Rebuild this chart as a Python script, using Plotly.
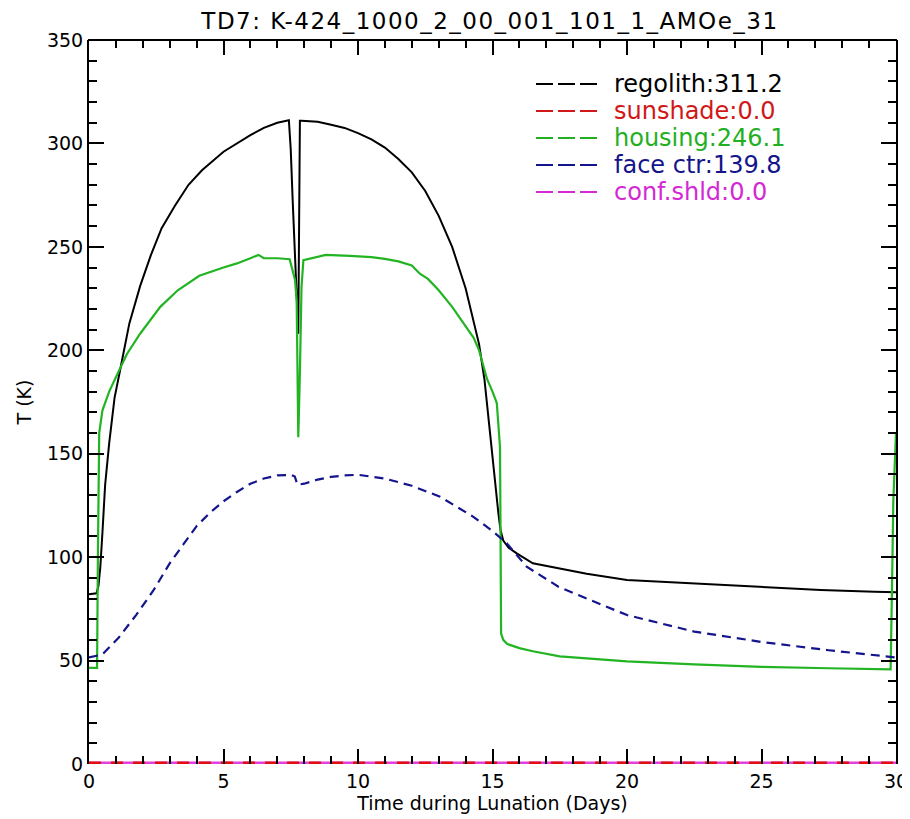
import plotly.graph_objects as go

# ---------------- data ----------------
regolith_x = [0, 0.28, 0.35, 0.42, 0.5, 0.6, 0.75, 0.95, 1.15, 1.5, 1.9, 2.3, 2.7, 3.2, 3.7,
              4.2, 5.0, 5.5, 6.0, 6.5, 7.0, 7.43, 7.5, 7.57, 7.66, 7.74, 7.78, 7.81, 7.84,
              7.9, 8.5, 9.0, 9.5, 10.0, 10.5, 11.0, 11.5, 12.0, 12.5, 13.0, 13.5, 14.0, 14.3,
              14.5, 14.7, 14.95, 15.1, 15.22, 15.3, 15.4, 15.6, 15.9, 16.5, 17.45, 18.5, 20.0,
              22.5, 25.0, 27.2, 29.2, 30.0]
regolith_y = [82, 82.5, 86, 95, 112, 135, 155, 177, 190, 213, 231, 246, 259, 270, 280,
              287, 296, 300, 304, 307.5, 310, 311.2, 297, 273, 248, 218, 208, 260, 311,
              311, 310.5, 309, 307.5, 305, 302, 298, 292.5, 286, 277, 265, 250, 230, 214,
              203, 186, 153, 135, 121, 113, 108, 104.5, 101.8, 97, 94.6, 92, 89,
              87.3, 85.7, 84.1, 83.3, 83]

sunshade_x = [0, 30]
sunshade_y = [0.0, 0.0]

housing_x = [0, 0.3, 0.33, 0.38, 0.5, 0.75, 1.0, 1.4, 1.9, 2.3, 2.65, 3.3, 4.1, 5.0, 5.5, 6.0,
             6.3, 6.5, 7.0, 7.46, 7.66, 7.72, 7.78, 7.84, 7.9, 7.97, 8.8, 9.7, 10.5, 11.0,
             11.5, 12.0, 12.3, 12.6, 13.0, 13.5, 14.0, 14.3, 14.5, 14.7, 14.8, 15.0, 15.16,
             15.28, 15.3, 15.32, 15.4, 15.55, 16.0, 16.5, 17.5, 18.5, 20.0, 22.5, 25.0,
             27.5, 29.8, 29.85, 29.9, 30.0]
housing_y = [46.5, 46.5, 100, 160, 171, 180, 187, 198, 208, 215, 221, 229, 236, 240, 242, 244.5,
             246.1, 244.5, 244.5, 244, 234, 224, 158, 189, 230.5, 243.6, 246.1, 245.6, 245, 244.2,
             243, 241, 237, 234.5, 229, 221, 212, 206, 200, 190, 186, 180, 174.5,
             153, 120, 63, 60, 58, 56, 54.5, 52, 51, 49.6, 48.2, 47,
             46.3, 45.8, 84, 127, 160]

facectr_x = [0, 0.5, 1.1, 1.75, 2.4, 3.0, 3.5, 4.0, 4.5, 5.0, 5.5, 6.0, 6.5, 7.0, 7.5, 7.65,
             7.75, 8.0, 8.5, 9.0, 9.5, 10.0, 11.0, 12.0, 13.05, 14.29, 15.03, 15.53, 16.27,
             17.45, 18.5, 20.0, 22.5, 25.0, 27.5, 29.8, 30.0]
facectr_y = [51.5, 53, 61, 72, 84, 97, 106, 115, 121.5, 127, 131.5, 135.5, 138, 139.5, 139.8,
             139, 135, 135.5, 137.5, 138.8, 139.5, 139.8, 138, 134.5, 129.2, 119.5, 112.3,
             106.7, 95.4, 85.7, 80, 72, 64, 59, 55, 52, 51.5]

confshld_x = [0, 30]
confshld_y = [0.0, 0.0]

legend_labels = ["regolith:311.2", "sunshade:0.0", "housing:246.1", "face ctr:139.8", "conf.shld:0.0"]
legend_colors = ["#000000", "#d01818", "#22b022", "#14148c", "#d428d4"]

title_text = "TD7: K-424_1000_2_00_001_101_1_AMOe_31"
x_ticks = [0, 5, 10, 15, 20, 25, 30]
y_ticks = [0, 50, 100, 150, 200, 250, 300, 350]

# ---------------- figure ----------------
FONT = "DejaVu Sans"
OFF = 8                       # page body margin of the html page
W, H = 910 - OFF, 819 - OFF
# plot area in window pixels: left 89, right 896, top 40, bottom 764
ML, MR, MT, MB = 89 - OFF, 910 - 896, 40 - OFF, 819 - 764

fig = go.Figure()
fig.add_trace(go.Scatter(x=confshld_x, y=confshld_y, mode="lines",
                         line=dict(color="#e040e0", width=5), showlegend=False))
fig.add_trace(go.Scatter(x=sunshade_x, y=sunshade_y, mode="lines",
                         line=dict(color="#e01010", width=5, dash="12px,10px"), showlegend=False))
fig.add_trace(go.Scatter(x=regolith_x, y=regolith_y, mode="lines",
                         line=dict(color="#000000", width=2), showlegend=False))
fig.add_trace(go.Scatter(x=housing_x, y=housing_y, mode="lines",
                         line=dict(color="#22b422", width=2.2), showlegend=False))
fig.add_trace(go.Scatter(x=facectr_x, y=facectr_y, mode="lines",
                         line=dict(color="#14148c", width=2.2, dash="9px,6px"), showlegend=False))

# legend drawn as annotations + dashed samples (positions in window pixels)
pw = W - ML - MR
ph = H - MT - MB
plot_left = ML + OFF
plot_bottom = OFF + H - MB
row0, rowstep = 84, 27
for i, (lab, col) in enumerate(zip(legend_labels, legend_colors)):
    py = row0 + i * rowstep
    yp = (plot_bottom - py) / ph
    fig.add_shape(type="line", xref="paper", yref="paper",
                  x0=(536 - plot_left) / pw, x1=(598 - plot_left) / pw, y0=yp, y1=yp,
                  line=dict(color=col, width=2.2, dash="17px,5px"))
    fig.add_annotation(xref="paper", yref="paper", x=(612 - plot_left) / pw, y=yp,
                       text=lab, showarrow=False, xanchor="left", yanchor="middle",
                       font=dict(family=FONT, size=24, color=col))

# top frame line (bottom edge is covered by the zero-valued series, as in the original)
fig.add_shape(type="line", xref="paper", yref="paper", x0=-0.0012, x1=1.0012, y0=1, y1=1,
              line=dict(color="black", width=2))

fig.update_layout(
    width=W, height=H,
    margin=dict(l=ML, r=MR, t=MT, b=MB, autoexpand=False),
    paper_bgcolor="white", plot_bgcolor="white",
    title=dict(text="<span style='letter-spacing:1.5px'>" + title_text + "</span>",
               x=(490 - OFF) / W, xanchor="center", y=1 - (21 - OFF) / H, yanchor="middle",
               font=dict(family=FONT, size=23, color="black")),
    font=dict(family=FONT, size=19, color="black"),
)
axis_common = dict(showgrid=False, zeroline=False, linecolor="black",
                   linewidth=2, mirror="ticks", ticks="inside", tickcolor="black",
                   tickwidth=2, ticklen=15, automargin=False,
                   tickfont=dict(family=FONT, size=19, color="black"))
fig.update_xaxes(range=[0, 30], tickmode="array", tickvals=x_ticks, showline=False,
                 ticklabelstandoff=4,
                 minor=dict(dtick=1, ticks="inside", ticklen=8, tickwidth=1.5, tickcolor="black"),
                 title=dict(text="Time during Lunation (Days)", font=dict(family=FONT, size=19),
                            standoff=4),
                 **axis_common)
fig.update_yaxes(range=[0, 350], tickmode="array", tickvals=y_ticks, showline=True,
                 minor=dict(dtick=10, ticks="inside", ticklen=8, tickwidth=1.5, tickcolor="black"),
                 title=dict(text="T (K)", font=dict(family=FONT, size=19), standoff=10),
                 **axis_common)

fig.write_html("out.html")
